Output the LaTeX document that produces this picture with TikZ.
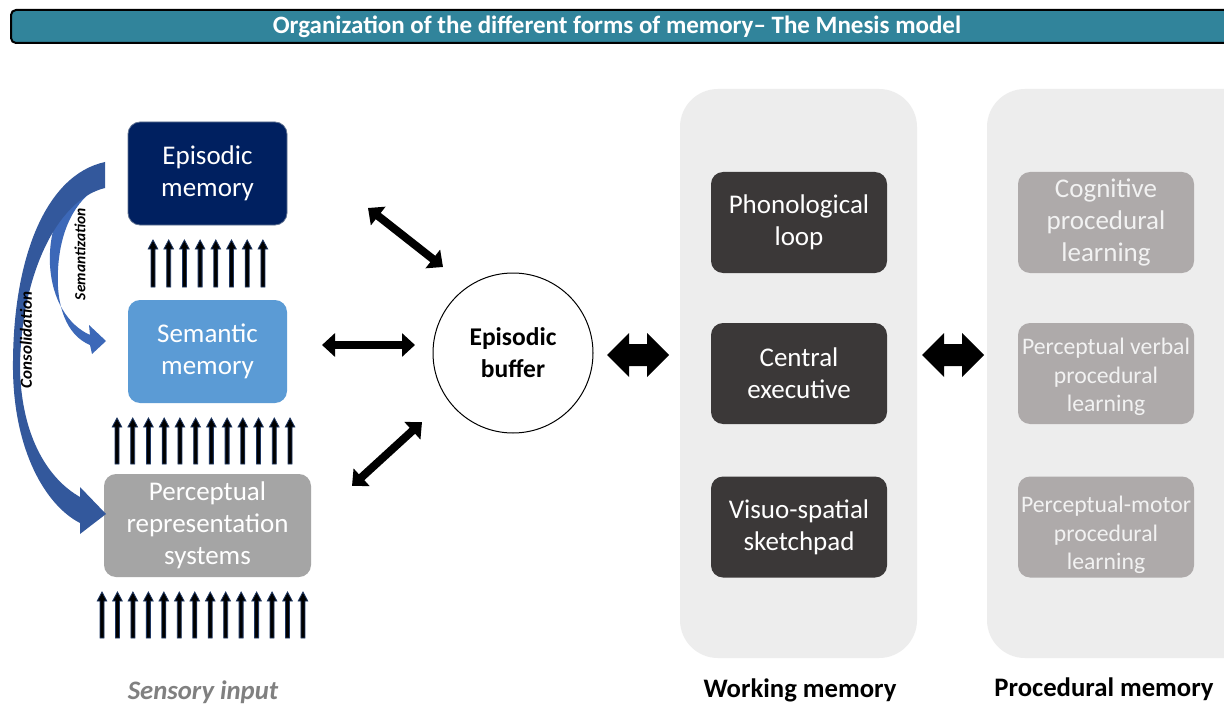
\documentclass[tikz,border=0pt]{standalone}
\usepackage{fontspec}
\setmainfont{Carlito}
\usetikzlibrary{arrows.meta}
\definecolor{titlebar}{HTML}{31849B}
\definecolor{epis}{HTML}{002060}
\definecolor{semc}{HTML}{5B9BD5}
\definecolor{perc}{HTML}{A5A5A5}
\definecolor{panel}{HTML}{EDEDED}
\definecolor{wmbox}{HTML}{3B3838}
\definecolor{pmbox}{HTML}{AEAAAA}
\definecolor{pmtext}{HTML}{F2F2F2}
\definecolor{curv}{HTML}{3C68B8}
\definecolor{navy}{HTML}{1F3864}
\definecolor{sens}{HTML}{808080}
\begin{document}
\begin{tikzpicture}[x=1pt,y=-1pt,
  box/.style={rounded corners=12pt, minimum height=103pt, inner sep=0pt, align=center,
    text=white, font=\fontsize{27}{32}\selectfont},
  wmb/.style={box, fill=wmbox, minimum width=176pt, minimum height=101pt},
  pmb/.style={box, fill=pmbox, text=pmtext, minimum width=176pt, minimum height=101pt},
  pmtxt/.style={inner sep=0pt, align=center, text=pmtext, font=\fontsize{23.7}{28.5}\selectfont},
  panelbox/.style={fill=panel, rounded corners=38pt, minimum height=569pt, inner sep=0pt},
  thinarr/.style={line width=8pt, {Triangle[width=23pt,length=13pt]}-{Triangle[width=23pt,length=13pt]}},
  caption/.style={font=\bfseries\fontsize{26.7}{30}\selectfont},
  uparr/.pic={\filldraw[fill=black, draw=navy, line width=0.8pt]
     (-2,#1) -- (-2,9) -- (-4.8,9) -- (0,0) -- (4.8,9) -- (2,9) -- (2,#1) -- cycle;},
  blockarr/.pic={\fill[black] (-31,0) -- (-9,-22) -- (-9,-11) -- (9,-11) -- (9,-22) -- (31,0)
     -- (9,22) -- (9,11) -- (-9,11) -- (-9,22) -- cycle;}
]
\clip (0,0) rectangle (1224,706);
\fill[white] (0,0) rectangle (1224,706);

% title bar
\node[draw=black, line width=2pt, fill=titlebar, rounded corners=5pt, minimum width=1218pt,
  minimum height=33pt, inner sep=0pt, anchor=west] (titlebar) at (10,26.5) {};
\node[text=white, font=\bfseries\fontsize{25}{28}\selectfont] (title) at (617,26.5)
  {Organization of the different forms of memory– The Mnesis model};

% panels
\node[panelbox, minimum width=237pt] (wmpanel) at (798.5,373.5) {};
\node[panelbox, minimum width=280pt] (pmpanel) at (1127,373.5) {};

% left boxes
\node[box, fill=epis, draw=navy!70!white, line width=0.8pt, minimum width=159pt] (epi) at (207.5,173.5) {Episodic\\memory};
\node[box, fill=semc, minimum width=159pt] (sem) at (207.5,351.5) {Semantic\\memory};
\node[box, fill=perc, minimum width=207pt] (per) at (207.5,525.5) {Perceptual\\representation\\systems};

% up arrows
\foreach \i in {0,...,7} \pic at ({153+15.7*\i},240) {uparr=47};
\foreach \i in {0,...,11} \pic at ({117+15.73*\i},418) {uparr=46};
\foreach \i in {0,...,13} \pic at ({102+15.46*\i},592) {uparr=46};

\node[font=\bfseries\itshape\fontsize{26.7}{30}\selectfont, text=sens] (sensory) at (203,692) {Sensory input};

% curved arrows
\fill[curv] (100,172) .. controls (65,185) and (48,225) .. (50,265)
  .. controls (52,300) and (68,325) .. (90,335) -- (89,325) -- (106,341) -- (92,354) -- (90,345)
  .. controls (66,335) and (56,305) .. (58,270) .. controls (60,230) and (75,200) .. (100,186) -- cycle;
\fill[curv!85!black] (105,162) .. controls (45,175) and (12,260) .. (13,370)
  .. controls (14,450) and (45,505) .. (80,523) -- (80,534) -- (106,514) -- (80,487) -- (80,497)
  .. controls (50,480) and (22,440) .. (20,370)
  .. controls (20,280) and (55,200) .. (105,188) -- cycle;
\node[rotate=90, font=\bfseries\itshape\fontsize{15.5}{18}\selectfont] (semz) at (80,254) {Semantization};
\node[rotate=90, font=\bfseries\itshape\fontsize{17}{19}\selectfont] (cons) at (26,340) {Consolidation};

% episodic buffer
\node[circle, draw=black, line width=1pt, fill=white, minimum size=160pt, inner sep=0pt, align=center,
  font=\bfseries\fontsize{25.5}{32}\selectfont] (buf) at (513,353) {Episodic\\buffer};

\coordinate (a1) at (368,208); \coordinate (b1) at (443,267);
\coordinate (a2) at (322,345); \coordinate (b2) at (415,345);
\coordinate (a3) at (352,486); \coordinate (b3) at (422,422);
\draw[thinarr] (a1) -- (b1);
\draw[thinarr] (a2) -- (b2);
\draw[thinarr] (a3) -- (b3);

\pic at (638,355) {blockarr};
\pic at (953,355) {blockarr};

% working memory
\node[wmb] (phon) at (799,222.5) {Phonological\\loop};
\node[wmb] (cex) at (799,373.5) {Central\\executive};
\node[wmb] (visu) at (799,527) {Visuo-spatial\\sketchpad};

% procedural memory
\node[pmb] (cog) at (1106,222.5) {Cognitive\\procedural\\learning};
\node[pmb] (verb) at (1106,373.5) {};
\node[pmtxt] (verbt) at (1106,377) {Perceptual verbal\\procedural\\learning};
\node[pmb] (mot) at (1106,527) {};
\node[pmtxt] (mott) at (1106,535) {Perceptual-motor\\procedural\\learning};

\node[caption] (wmlab) at (800,690) {Working memory};
\node[caption] (pmlab) at (1104,689) {Procedural memory};
\end{tikzpicture}
\end{document}
